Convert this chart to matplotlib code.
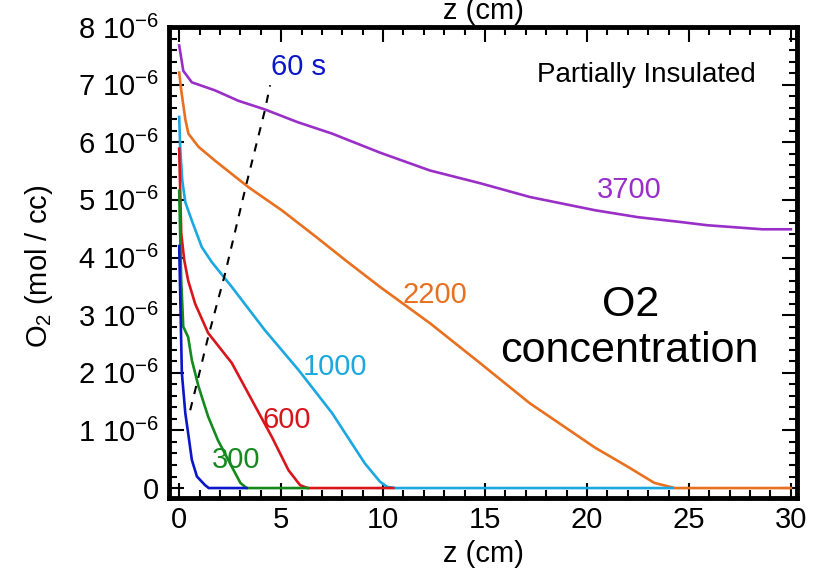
import matplotlib
matplotlib.use("Agg")
import matplotlib.pyplot as plt
from matplotlib.ticker import MultipleLocator, FuncFormatter

plt.rcParams['font.family'] = ['Liberation Sans', 'DejaVu Sans']
plt.rcParams['mathtext.fontset'] = 'custom'
plt.rcParams['mathtext.rm'] = 'Liberation Sans'
plt.rcParams['mathtext.it'] = 'Liberation Sans'
plt.rcParams['mathtext.default'] = 'regular'

# O2 concentration profiles, values in units of 1e-6 mol/cc
scale = 1e-6

z_3700 = [0, 0.2, 0.62, 1.76, 2.9, 4.2, 5.8, 7.5, 9.85, 12.3, 14.75, 17.2, 20.4, 22.5, 24.5, 25.9, 28.6, 30.0]
c_3700 = [7.68, 7.24, 7.04, 6.90, 6.72, 6.57, 6.35, 6.15, 5.82, 5.51, 5.29, 5.05, 4.82, 4.70, 4.62, 4.56, 4.49, 4.49]

z_2200 = [0, 0.1, 0.3, 0.45, 0.95, 1.76, 3.4, 5.03, 6.67, 8.2, 9.85, 12.3, 14.75, 17.2, 20.4, 22.0, 23.3, 24.3, 30.0]
c_2200 = [7.21, 6.9, 6.4, 6.15, 5.92, 5.68, 5.22, 4.82, 4.37, 3.94, 3.49, 2.86, 2.17, 1.47, 0.70, 0.37, 0.09, 0.0, 0.0]

z_1000 = [0, 0.05, 0.15, 0.3, 0.62, 1.11, 1.6, 2.58, 4.2, 5.85, 7.5, 9.1, 9.85, 10.2, 10.6, 24.2]
c_1000 = [6.44, 5.9, 5.34, 4.96, 4.64, 4.18, 3.92, 3.49, 2.74, 2.05, 1.30, 0.43, 0.11, 0.02, 0.0, 0.0]

z_600 = [0, 0.1, 0.25, 0.44, 0.78, 1.42, 2.58, 3.56, 4.54, 5.36, 5.93, 6.3, 10.5]
c_600 = [5.89, 4.42, 3.95, 3.6, 3.2, 2.69, 2.17, 1.53, 0.89, 0.31, 0.05, 0.0, 0.0]

z_300 = [0, 0.1, 0.2, 0.44, 0.62, 0.95, 1.42, 1.9, 2.58, 3.0, 3.3, 6.3]
c_300 = [5.16, 3.6, 2.80, 2.62, 2.22, 1.76, 1.24, 0.83, 0.37, 0.09, 0.0, 0.0]

z_60 = [0, 0.13, 0.3, 0.44, 0.62, 0.87, 1.27, 1.45, 3.3]
c_60 = [4.2, 2.0, 1.30, 0.95, 0.49, 0.2, 0.05, 0.0, 0.0]

# front position (dashed)
z_front = [0.54, 0.87, 1.42, 2.25, 3.3, 4.2, 4.46]
c_front = [1.35, 1.82, 2.62, 3.72, 5.28, 6.55, 6.99]

series = [
    (z_3700, c_3700, '#9a2fc8', '3700', 20.5, 5.04),
    (z_2200, c_2200, '#e8701e', '2200', 10.95, 3.21),
    (z_1000, c_1000, '#1ba7df', '1000', 6.05, 1.96),
    (z_600, c_600, '#d8151b', '600', 4.1, 1.04),
    (z_300, c_300, '#148a1e', '300', 1.6, 0.35),
    (z_60, c_60, '#0b16c8', None, 0, 0),
]

fig = plt.figure(figsize=(8.16, 5.77), dpi=100)
ax = fig.add_axes([0.2071, 0.1369, 0.7696, 0.8163])

for z, c, col, lab, lx, ly in series:
    ax.plot(z, [v * scale for v in c], color=col, lw=1.9, solid_joinstyle='miter')
    if lab:
        ax.text(lx, ly * scale, lab, color=col, fontsize=21, ha='left', va='baseline')

ax.plot(z_front, [v * scale for v in c_front], color='black', lw=1.5, dashes=(4, 4))

ax.text(4.5, 7.16 * scale, '60 s', color='#0b16c8', fontsize=21, ha='left', va='baseline')
ax.text(28.3, 7.04 * scale, 'Partially Insulated', fontsize=20, ha='right', va='baseline')
ax.text(22.15, 2.98 * scale, 'O2', fontsize=31, ha='center', va='baseline')
ax.text(22.1, 2.18 * scale, 'concentration', fontsize=31, ha='center', va='baseline')

ax.set_xlim(-0.5, 30.3)
ax.set_ylim(-0.173 * scale, 8.0 * scale)

ax.xaxis.set_major_locator(MultipleLocator(5))
ax.xaxis.set_minor_locator(MultipleLocator(1))
ax.yaxis.set_major_locator(MultipleLocator(1 * scale))
ax.yaxis.set_minor_locator(MultipleLocator(0.2 * scale))


def ylab(v, pos):
    n = int(round(v / scale))
    if n == 0:
        return '0'
    return f'{n} 10$^{{-6}}$'


ax.yaxis.set_major_formatter(FuncFormatter(ylab))
ax.tick_params(which='both', direction='in', top=True, right=True, width=1.5, labelsize=21)
ax.tick_params(which='major', length=11)
ax.tick_params(which='minor', length=5.5)
ax.tick_params(axis='x', pad=6)
ax.tick_params(axis='y', pad=7)
for sp in ax.spines.values():
    sp.set_linewidth(3.5)

fig.text(483 / 816, 1 - 562 / 577, 'z (cm)', fontsize=21, ha='center', va='baseline')
fig.text(483 / 816, 1 - 19 / 577, 'z (cm)', fontsize=21, ha='center', va='baseline')
fig.text(39 / 816, 1 - 266 / 577, 'O$_2$ (mol / cc)', fontsize=21, rotation=90,
         ha='center', va='center')

fig.savefig('out.png', dpi=100)
